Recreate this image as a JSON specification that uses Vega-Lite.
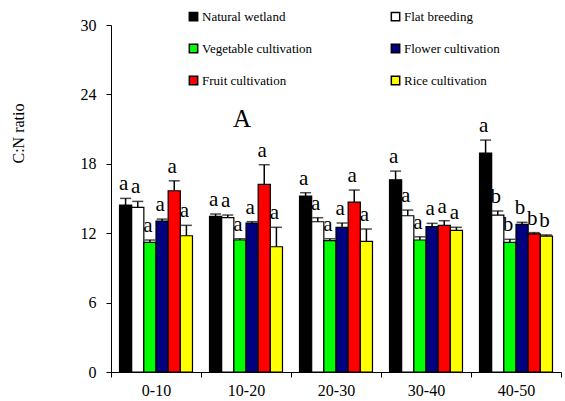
{
  "$schema": "https://vega.github.io/schema/vega-lite/v6.json",
  "width": 450,
  "height": 347,
  "autosize": {"type": "none"},
  "padding": {"left": 111, "top": 25, "right": 4, "bottom": 29},
  "config": {
    "view": {"stroke": null},
    "font": "Liberation Serif",
    "axis": {
      "domainColor": "black",
      "tickColor": "black",
      "labelColor": "black",
      "titleColor": "black",
      "labelFont": "Liberation Serif",
      "titleFont": "Liberation Serif",
      "labelFontSize": 16,
      "titleFontSize": 16,
      "titleFontWeight": "normal",
      "grid": false,
      "tickSize": 5,
      "domainWidth": 1,
      "tickWidth": 1
    },
    "legend": {"labelFont": "Liberation Serif"}
  },
  "data": {
    "values": [
      {"depth": "0-10", "type": "Natural wetland", "value": 14.43, "upper": 15.01, "letter": "a"},
      {"depth": "0-10", "type": "Flat breeding", "value": 14.23, "upper": 14.75, "letter": "a"},
      {"depth": "0-10", "type": "Vegetable cultivation", "value": 11.21, "upper": 11.41, "letter": "a"},
      {"depth": "0-10", "type": "Flower cultivation", "value": 13.05, "upper": 13.22, "letter": "a"},
      {"depth": "0-10", "type": "Fruit cultivation", "value": 15.67, "upper": 16.53, "letter": "a"},
      {"depth": "0-10", "type": "Rice cultivation", "value": 11.78, "upper": 12.68, "letter": "a"},
      {"depth": "10-20", "type": "Natural wetland", "value": 13.46, "upper": 13.66, "letter": "a"},
      {"depth": "10-20", "type": "Flat breeding", "value": 13.34, "upper": 13.57, "letter": "a"},
      {"depth": "10-20", "type": "Vegetable cultivation", "value": 11.41, "upper": 11.52, "letter": "a"},
      {"depth": "10-20", "type": "Flower cultivation", "value": 12.88, "upper": 13.0, "letter": "a"},
      {"depth": "10-20", "type": "Fruit cultivation", "value": 16.22, "upper": 17.92, "letter": "a"},
      {"depth": "10-20", "type": "Rice cultivation", "value": 10.83, "upper": 12.51, "letter": "a"},
      {"depth": "20-30", "type": "Natural wetland", "value": 15.21, "upper": 15.5, "letter": "a"},
      {"depth": "20-30", "type": "Flat breeding", "value": 12.99, "upper": 13.34, "letter": "a"},
      {"depth": "20-30", "type": "Vegetable cultivation", "value": 11.35, "upper": 11.52, "letter": "a"},
      {"depth": "20-30", "type": "Flower cultivation", "value": 12.51, "upper": 12.88, "letter": "a"},
      {"depth": "20-30", "type": "Fruit cultivation", "value": 14.69, "upper": 15.73, "letter": "a"},
      {"depth": "20-30", "type": "Rice cultivation", "value": 11.3, "upper": 12.36, "letter": "a"},
      {"depth": "30-40", "type": "Natural wetland", "value": 16.62, "upper": 17.37, "letter": "a"},
      {"depth": "30-40", "type": "Flat breeding", "value": 13.51, "upper": 14.0, "letter": "a"},
      {"depth": "30-40", "type": "Vegetable cultivation", "value": 11.41, "upper": 11.69, "letter": "a"},
      {"depth": "30-40", "type": "Flower cultivation", "value": 12.56, "upper": 12.85, "letter": "a"},
      {"depth": "30-40", "type": "Fruit cultivation", "value": 12.68, "upper": 13.08, "letter": "a"},
      {"depth": "30-40", "type": "Rice cultivation", "value": 12.25, "upper": 12.51, "letter": "a"},
      {"depth": "40-50", "type": "Natural wetland", "value": 18.93, "upper": 20.05, "letter": "a"},
      {"depth": "40-50", "type": "Flat breeding", "value": 13.57, "upper": 13.92, "letter": "b"},
      {"depth": "40-50", "type": "Vegetable cultivation", "value": 11.21, "upper": 11.47, "letter": "b"},
      {"depth": "40-50", "type": "Flower cultivation", "value": 12.77, "upper": 12.94, "letter": "b"},
      {"depth": "40-50", "type": "Fruit cultivation", "value": 11.95, "upper": 12.05, "letter": "b"},
      {"depth": "40-50", "type": "Rice cultivation", "value": 11.75, "upper": 11.85, "letter": "b"}
    ]
  },
  "layer": [
    {
      "mark": {"type": "bar", "stroke": "black", "strokeWidth": 1.2},
      "encoding": {
        "x": {"field": "depth", "type": "nominal", "sort": ["0-10", "10-20", "20-30", "30-40", "40-50"], "scale": {"paddingInner": 0, "paddingOuter": 0}, "axis": {"title": null, "labelAngle": 0, "tickBand": "extent", "labelPadding": 5, "labelFont": "Liberation Serif"}},
        "xOffset": {"field": "type", "type": "nominal", "sort": ["Natural wetland", "Flat breeding", "Vegetable cultivation", "Flower cultivation", "Fruit cultivation", "Rice cultivation"], "scale": {"paddingInner": 0, "paddingOuter": 0.7}},
        "y": {"field": "value", "type": "quantitative", "scale": {"domain": [0, 30], "nice": false}, "axis": {"values": [0, 6, 12, 18, 24, 30], "title": "C:N ratio", "labelPadding": 10, "labelFont": "Liberation Serif", "titleX": -93, "titleY": 108, "titleAngle": -90, "titleBaseline": "middle", "titleAlign": "center"}},
        "color": {
          "field": "type",
          "type": "nominal",
          "sort": ["Natural wetland", "Flat breeding", "Vegetable cultivation", "Flower cultivation", "Fruit cultivation", "Rice cultivation"],
          "scale": {"domain": ["Natural wetland", "Flat breeding", "Vegetable cultivation", "Flower cultivation", "Fruit cultivation", "Rice cultivation"], "range": ["#000000", "#ffffff", "#00ff00", "#000080", "#ff0000", "#ffff00"]},
          "legend": {
            "title": null,
            "orient": "none",
            "direction": "horizontal",
            "legendX": 76,
            "legendY": -15,
            "columns": 2,
            "columnPadding": 75,
            "rowPadding": 17,
            "symbolType": "square",
            "symbolSize": 70,
            "symbolStrokeColor": "black",
            "symbolStrokeWidth": 1.5,
            "labelFont": "Liberation Serif",
            "labelFontSize": 13,
            "labelColor": "black",
            "labelOffset": 2
          }
        }
      }
    },
    {
      "mark": {"type": "rule", "color": "black", "strokeWidth": 1.5},
      "encoding": {
        "x": {"field": "depth", "type": "nominal", "sort": ["0-10", "10-20", "20-30", "30-40", "40-50"]},
        "xOffset": {"field": "type", "type": "nominal", "sort": ["Natural wetland", "Flat breeding", "Vegetable cultivation", "Flower cultivation", "Fruit cultivation", "Rice cultivation"]},
        "y": {"field": "value", "type": "quantitative"},
        "y2": {"field": "upper"}
      }
    },
    {
      "mark": {"type": "tick", "color": "black", "thickness": 1.5, "size": 11},
      "encoding": {
        "x": {"field": "depth", "type": "nominal", "sort": ["0-10", "10-20", "20-30", "30-40", "40-50"]},
        "xOffset": {"field": "type", "type": "nominal", "sort": ["Natural wetland", "Flat breeding", "Vegetable cultivation", "Flower cultivation", "Fruit cultivation", "Rice cultivation"]},
        "y": {"field": "upper", "type": "quantitative"}
      }
    },
    {
      "mark": {"type": "text", "font": "Liberation Serif", "fontSize": 21, "color": "black", "baseline": "alphabetic", "dy": -8, "dx": -2},
      "encoding": {
        "x": {"field": "depth", "type": "nominal", "sort": ["0-10", "10-20", "20-30", "30-40", "40-50"]},
        "xOffset": {"field": "type", "type": "nominal", "sort": ["Natural wetland", "Flat breeding", "Vegetable cultivation", "Flower cultivation", "Fruit cultivation", "Rice cultivation"]},
        "y": {"field": "upper", "type": "quantitative"},
        "text": {"field": "letter"}
      }
    },
    {
      "data": {"values": [{"depth": "10-20", "label": "A"}]},
      "mark": {"type": "text", "font": "Liberation Serif", "fontSize": 25, "color": "black", "baseline": "alphabetic", "dx": -4},
      "encoding": {
        "x": {"field": "depth", "type": "nominal"},
        "y": {"datum": 21.2, "type": "quantitative"},
        "text": {"field": "label"}
      }
    }
  ]
}
